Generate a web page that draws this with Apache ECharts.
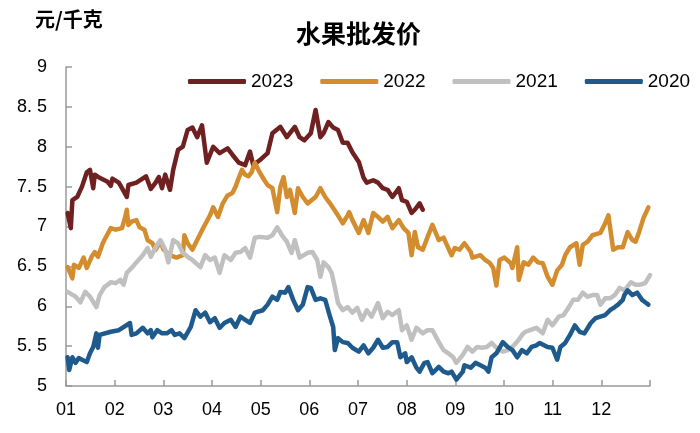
<!DOCTYPE html>
<html>
<head>
<meta charset="utf-8">
<script src="https://cdn.jsdelivr.net/npm/echarts@6/dist/echarts.min.js"></script>
<style>
  html, body { margin: 0; padding: 0; background: #fff; }
  #chart { width: 700px; height: 433px; }
</style>
</head>
<body>
<div id="chart"></div>
<script>
// x = day of the year, y = price (yuan / kg)
var monthLabels = ['01', '02', '03', '04', '05', '06', '07', '08', '09', '10', '11', '12'];
var yTickLabels = ['5', '5. 5', '6', '6. 5', '7', '7. 5', '8', '8. 5', '9'];
var seriesNames = ['2023', '2022', '2021', '2020'];
var seriesColors = ['#6e2120', '#d38d2e', '#c0c0c0', '#1f5a8c'];

var price2023 = [[1,7.17],[3,6.98],[4,7.33],[7,7.37],[10,7.50],[13,7.68],[15,7.71],[17,7.48],[18,7.65],[21,7.61],
  [26,7.56],[28,7.51],[29,7.60],[33,7.55],[35,7.48],[38,7.37],[39,7.52],[44,7.55],[50,7.63],[53,7.47],
  [56,7.55],[58,7.62],[60,7.48],[62,7.65],[65,7.46],[67,7.71],[70,7.96],[73,8.00],[76,8.21],[79,8.24],
  [82,8.12],[85,8.27],[88,7.80],[92,8.00],[96,7.92],[101,7.98],[104,7.90],[108,7.80],[112,7.77],[115,7.94],
  [117,7.77],[121,7.83],[126,7.92],[129,8.17],[134,8.25],[138,8.12],[143,8.25],[146,8.12],[149,8.08],[153,8.17],
  [156,8.46],[159,8.12],[161,8.17],[164,8.31],[167,8.24],[170,8.21],[173,8.05],[176,8.05],[179,7.93],[183,7.81],
  [186,7.61],[188,7.55],[192,7.58],[195,7.55],[198,7.48],[201,7.46],[204,7.37],[208,7.48],[210,7.33],[213,7.31],
  [216,7.17],[218,7.21],[221,7.29],[223,7.21]];

var price2022 = [[1,6.49],[4,6.35],[5,6.52],[8,6.48],[11,6.61],[13,6.48],[16,6.62],[18,6.68],[20,6.62],[23,6.79],
  [24,6.83],[28,6.98],[31,6.96],[35,6.98],[37,7.12],[38,7.21],[39,7.02],[41,7.06],[44,7.08],[46,6.99],
  [49,6.96],[51,6.83],[54,6.79],[56,6.71],[59,6.81],[61,6.71],[65,6.64],[69,6.61],[73,6.64],[74,6.89],
  [76,6.79],[79,6.71],[82,6.83],[86,6.99],[90,7.14],[92,7.24],[95,7.12],[98,7.29],[101,7.39],[104,7.42],
  [106,7.50],[108,7.61],[110,7.71],[112,7.65],[114,7.63],[116,7.68],[118,7.80],[121,7.68],[124,7.58],[126,7.52],
  [129,7.48],[132,7.18],[134,7.50],[136,7.62],[138,7.37],[140,7.46],[143,7.17],[145,7.48],[148,7.37],[151,7.29],
  [156,7.37],[159,7.48],[162,7.37],[165,7.29],[169,7.17],[173,7.04],[176,7.14],[177,7.18],[179,7.08],[183,6.92],
  [186,7.08],[189,6.92],[192,7.17],[195,7.12],[198,7.06],[201,7.12],[204,6.98],[208,7.08],[211,6.98],[214,6.92],
  [216,6.64],[218,6.93],[220,6.74],[223,6.71],[226,6.87],[229,7.02],[233,6.83],[236,6.86],[238,6.77],[241,6.64],
  [243,6.73],[246,6.71],[249,6.79],[253,6.68],[254,6.61],[259,6.64],[262,6.58],[265,6.54],[267,6.48],[269,6.26],
  [271,6.58],[274,6.61],[278,6.54],[279,6.48],[282,6.74],[283,6.33],[286,6.55],[289,6.52],[292,6.61],[295,6.55],
  [298,6.54],[301,6.37],[304,6.27],[307,6.45],[310,6.52],[312,6.64],[315,6.74],[319,6.79],[321,6.52],[323,6.77],
  [326,6.81],[329,6.89],[334,6.92],[337,7.04],[339,7.14],[342,6.71],[345,6.74],[348,6.74],[351,6.93],[354,6.83],
  [356,6.81],[358,6.92],[361,7.11],[364,7.24]];

var price2021 = [[1,6.18],[6,6.12],[9,6.05],[12,6.18],[15,6.12],[19,5.99],[21,6.14],[24,6.24],[28,6.30],[31,6.29],
  [34,6.33],[36,6.27],[38,6.42],[41,6.48],[44,6.55],[48,6.64],[51,6.73],[53,6.62],[56,6.74],[59,6.83],
  [62,6.71],[64,6.55],[67,6.83],[70,6.79],[73,6.67],[76,6.62],[79,6.58],[84,6.49],[87,6.64],[90,6.58],
  [93,6.61],[96,6.42],[99,6.64],[103,6.58],[106,6.67],[109,6.68],[112,6.73],[115,6.61],[118,6.86],[121,6.87],
  [126,6.86],[129,6.89],[132,6.99],[135,6.89],[138,6.81],[141,6.67],[143,6.83],[146,6.61],[151,6.67],[154,6.68],
  [157,6.58],[159,6.37],[161,6.55],[164,6.49],[166,6.42],[168,6.24],[170,6.04],[173,5.95],[176,5.99],[179,5.92],
  [182,5.98],[185,5.83],[188,5.95],[191,5.87],[195,6.04],[198,5.85],[201,5.93],[204,5.89],[208,5.95],[210,5.70],
  [213,5.76],[216,5.58],[219,5.73],[223,5.66],[226,5.70],[229,5.70],[233,5.55],[236,5.45],[239,5.41],[242,5.36],
  [244,5.29],[248,5.39],[251,5.49],[254,5.43],[257,5.49],[260,5.48],[263,5.49],[266,5.54],[269,5.48],[273,5.43],
  [276,5.45],[279,5.49],[283,5.58],[285,5.64],[287,5.68],[290,5.70],[294,5.73],[298,5.66],[301,5.83],[304,5.76],
  [308,5.87],[311,5.89],[314,5.98],[317,6.08],[320,6.08],[323,6.17],[326,6.12],[329,6.14],[332,6.14],[334,6.02],
  [337,6.10],[340,6.10],[343,6.14],[346,6.23],[349,6.20],[353,6.30],[356,6.27],[359,6.27],[362,6.29],[365,6.39]];

var price2020 = [[1,5.36],[2,5.20],[4,5.36],[6,5.29],[8,5.35],[10,5.33],[13,5.30],[15,5.41],[17,5.49],[19,5.66],
  [20,5.48],[21,5.64],[28,5.68],[33,5.70],[40,5.79],[41,5.64],[44,5.66],[48,5.73],[51,5.66],[53,5.70],
  [54,5.61],[57,5.70],[60,5.66],[63,5.66],[66,5.70],[68,5.64],[71,5.66],[74,5.60],[78,5.74],[81,5.95],
  [84,5.87],[87,5.92],[90,5.80],[93,5.85],[96,5.73],[99,5.79],[103,5.83],[106,5.74],[109,5.87],[112,5.83],
  [115,5.79],[118,5.92],[123,5.95],[126,6.02],[129,6.12],[132,6.08],[134,6.18],[137,6.17],[139,6.24],[142,6.08],
  [145,5.95],[148,6.02],[151,6.24],[153,6.23],[156,6.08],[159,6.10],[162,6.08],[165,5.87],[167,5.74],[168,5.45],
  [170,5.60],[173,5.55],[176,5.54],[179,5.48],[183,5.43],[186,5.51],[189,5.41],[192,5.48],[195,5.58],[198,5.48],
  [201,5.49],[204,5.55],[207,5.55],[209,5.36],[212,5.41],[213,5.30],[216,5.36],[219,5.23],[221,5.18],[224,5.29],
  [226,5.30],[229,5.16],[233,5.24],[236,5.18],[239,5.16],[241,5.18],[244,5.08],[248,5.18],[249,5.26],[253,5.23],
  [256,5.29],[259,5.26],[262,5.23],[264,5.18],[266,5.36],[269,5.41],[273,5.55],[276,5.49],[279,5.45],[282,5.36],
  [285,5.45],[288,5.41],[291,5.49],[294,5.51],[296,5.54],[301,5.49],[304,5.48],[307,5.33],[309,5.49],[312,5.54],
  [315,5.64],[318,5.76],[321,5.68],[324,5.66],[328,5.79],[331,5.85],[334,5.87],[337,5.89],[340,5.95],[343,5.99],
  [345,6.02],[348,6.08],[349,6.14],[351,6.20],[354,6.14],[357,6.17],[360,6.08],[362,6.05],[364,6.02]];

var seriesData = [price2023, price2022, price2021, price2020];

var FONT = '"Liberation Sans", Arial, "Noto Sans CJK SC", sans-serif';
var CJK = '"Noto Sans CJK SC", sans-serif';

// day of year -> month units, so each month tick is one unit
function toMonths(d) { return d * 12 / 365; }

var chart = echarts.init(document.getElementById('chart'), null, {renderer: 'canvas'});

chart.setOption({
  animation: false,
  backgroundColor: '#fff',
  title: [
    {
      text: '水果批发价',
      left: 291, top: 16,
      textStyle: {fontFamily: CJK, fontSize: 25, fontWeight: 'bold', color: '#000'}
    },
    {
      text: '元/千克',
      left: 30, top: 4,
      textStyle: {fontFamily: CJK, fontSize: 20, fontWeight: 'bold', color: '#000'}
    }
  ],
  legend: {
    data: seriesNames,
    left: 183, top: 67,
    itemWidth: 58, itemHeight: 5,
    itemGap: 27, itemTextGap: 6,
    icon: 'roundRect',
    textStyle: {fontFamily: FONT, fontSize: 19, color: '#000'}
  },
  grid: {left: 66, right: 50, top: 67, bottom: 47, outerBoundsMode: 'none'},
  xAxis: {
    type: 'value',
    min: 0, max: 12, interval: 1,
    axisLine: {lineStyle: {color: '#9a9a9a', width: 1.5}},
    axisTick: {inside: true, length: 6, lineStyle: {color: '#9a9a9a', width: 1.5}},
    splitLine: {show: false},
    axisLabel: {
      margin: 15,
      fontFamily: FONT, fontSize: 18, color: '#000',
      formatter: function (v, i) { return i < monthLabels.length ? monthLabels[i] : ''; }
    }
  },
  yAxis: {
    type: 'value',
    min: 5, max: 9, interval: 0.5,
    axisLine: {show: true, lineStyle: {color: '#9a9a9a', width: 1.5}},
    axisTick: {show: true, inside: true, length: 6, lineStyle: {color: '#9a9a9a', width: 1.5}},
    splitLine: {show: false},
    axisLabel: {
      margin: 19,
      fontFamily: FONT, fontSize: 18, color: '#000',
      formatter: function (v, i) { return yTickLabels[i]; }
    }
  },
  series: seriesNames.map(function (name, i) {
    return {
      name: name,
      type: 'line',
      showSymbol: false,
      color: seriesColors[i],
      lineStyle: {width: 4.5, color: seriesColors[i], join: 'round', cap: 'round'},
      data: seriesData[i].map(function (p) { return [toMonths(p[0]), p[1]]; })
    };
  })
});
</script>
</body>
</html>
